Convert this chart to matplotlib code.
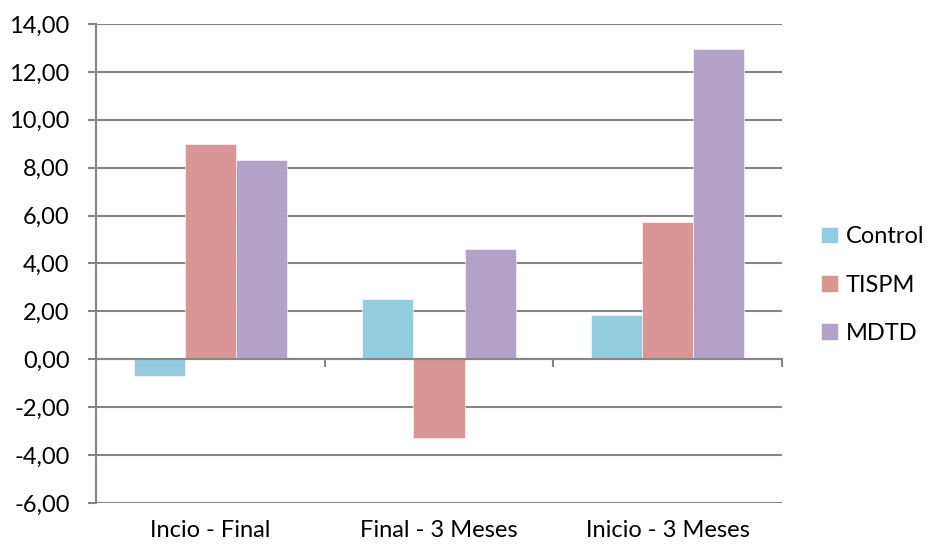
import matplotlib
matplotlib.use("Agg")
import matplotlib.pyplot as plt
import matplotlib.transforms as mtransforms
import numpy as np

plt.rcParams['font.family'] = ['Lato', 'DejaVu Sans']

categories = ["Incio - Final", "Final - 3 Meses", "Inicio - 3 Meses"]
series_names = ["Control", "TISPM", "MDTD"]
control = [-0.70, 2.52, 1.85]
tispm = [8.99, -3.29, 5.73]
mdtd = [8.32, 4.61, 12.96]
colors = ["#93CDDD", "#D99694", "#B3A2C7"]
yticks = [-6, -4, -2, 0, 2, 4, 6, 8, 10, 12, 14]

grid_color = "#868686"
fs = 17

fig = plt.figure(figsize=(9.29, 5.49), dpi=100)
ax = fig.add_axes([96 / 929, 1 - 503 / 549, (782 - 96) / 929, (503 - 24) / 549])

x = np.arange(len(categories))
width = 0.67 / 3
for i, (name, vals, col) in enumerate(zip(series_names, [control, tispm, mdtd], colors)):
    ax.bar(x + (i - 1) * width, vals, width, color=col, label=name,
           edgecolor="white", linewidth=0.4, zorder=3)

ax.set_xlim(-0.5, 2.5)
ax.set_ylim(-6, 14)
ax.set_yticks(yticks)
ax.set_yticklabels([f"{v:.2f}".replace(".", ",") for v in yticks], fontsize=fs)
ax.yaxis.grid(True, color=grid_color, linewidth=1.5, zorder=0)
ax.set_axisbelow(True)

for s in ["top", "right"]:
    ax.spines[s].set_visible(False)
ax.spines["left"].set_color(grid_color)
ax.spines["left"].set_linewidth(1.5)
ax.spines["bottom"].set_position(("data", 0))
ax.spines["bottom"].set_color(grid_color)
ax.spines["bottom"].set_linewidth(1.5)
ax.spines["bottom"].set_zorder(4)

ax.tick_params(axis="y", length=6, width=1.5, color=grid_color, pad=13, labelcolor="black")
ax.set_xticks([0.5, 1.5, 2.5])
ax.set_xticklabels([])
ax.tick_params(axis="x", length=6, width=1.5, color=grid_color, direction="out")

trans = mtransforms.blended_transform_factory(ax.transData, ax.transAxes)
for xi, lab in zip(x, categories):
    ax.text(xi, -0.035, lab, transform=trans, ha="center", va="top", fontsize=fs)

leg = fig.legend(loc="center left", bbox_to_anchor=(821 / 929, 1 - 285 / 549),
                 frameon=False, fontsize=fs, handlelength=0.7, handleheight=0.7,
                 labelspacing=1.15, handletextpad=0.35, borderpad=0, borderaxespad=0)

fig.savefig("out.png", dpi=100)
